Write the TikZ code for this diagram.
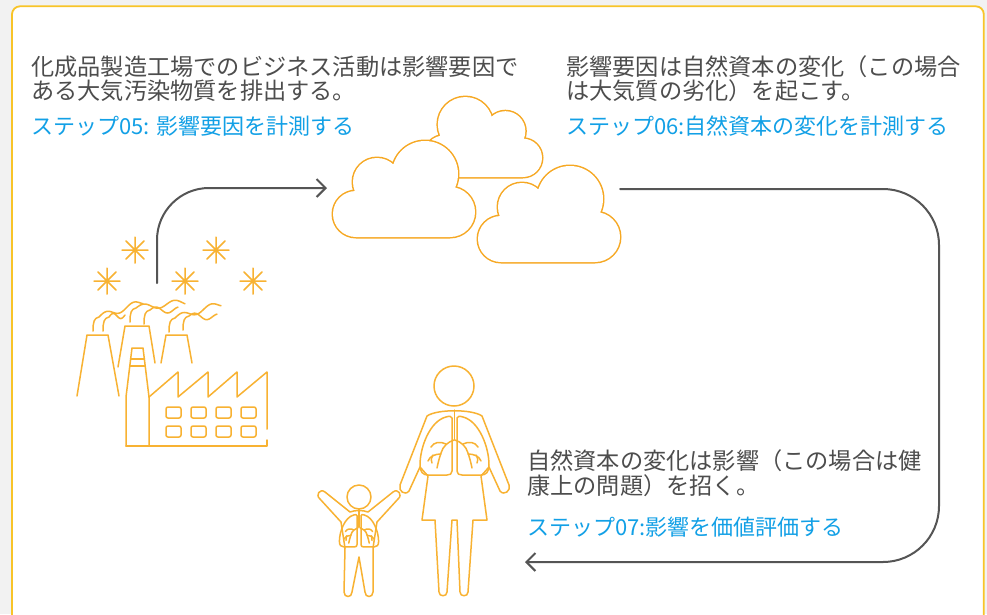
\documentclass[tikz,border=0pt]{standalone}
\usepackage{fontspec}
\newfontfamily\jpfont{Noto Sans CJK JP}
\usetikzlibrary{arrows.meta}

\definecolor{pagegray}{RGB}{242,242,242}
\definecolor{framegold}{RGB}{248,196,40}
\definecolor{iconorange}{RGB}{248,178,50}
\definecolor{cloudorange}{RGB}{246,168,35}
\definecolor{txtgray}{RGB}{77,77,77}
\definecolor{stepblue}{RGB}{18,160,230}
\definecolor{flowgray}{RGB}{85,85,85}

% outline of one cloud: four bumps on a flat base
\newcommand{\cloudpath}{(23,-23) circle (23) (117,-25) circle (25) (44,-55) circle (24) (92,-63) circle (33)
  (23,0) -- (23,-23) -- (44,-55) -- (92,-63) -- (117,-25) -- (117,0) -- cycle}

% rising smoke: a hook, then a wave
\newcommand{\smoke}[5]{%
  \draw[icon] (#1,#2) .. controls (#1,#2-9) and (#1+1,#2-13) .. (#1+6,#2-14)
    -- plot[domain=0:1, samples=40, smooth] ({#1+6+\x*(#3-#1-6)}, {#2-14+\x*(#4-#2+14)-3*sin(\x*#5*360)});}

\tikzset{
  desc/.style={font=\jpfont\fontsize{23.2}{24.5}\selectfont, text=txtgray, align=left, inner sep=0pt, anchor=base west},
  steplabel/.style={font=\jpfont\fontsize{22}{25}\selectfont, text=stepblue, inner sep=0pt, anchor=base west},
  flow/.style={draw=flowgray, line width=2pt, -{Straight Barb[length=9pt, width=18pt]}},
  icon/.style={draw=iconorange, line width=1.5pt, line join=round, line cap=round},
  cloud/.pic={
    \draw[cloudorange, line width=3pt] \cloudpath;
    \fill[white] \cloudpath;
  },
  lung/.pic={
    \draw[icon] (0,1) -- (0,54) .. controls (0,57) and (-2,58) .. (-5,58) -- (-24,58)
      .. controls (-29,58) and (-32,55) .. (-32,48) .. controls (-32,30) and (-22,4) .. (-6,0)
      .. controls (-3,-1) and (0,-1) .. (0,1);
    \draw[icon] (2,23) .. controls (-4,25) and (-9,29) .. (-11,36) .. controls (-13,42) and (-14,46) .. (-15,51);
    \draw[icon] (-6,27) .. controls (-12,24) and (-18,25) .. (-21,30);
    \draw[icon] (-11,37) .. controls (-17,37) and (-22,39) .. (-24,44);
    \draw[icon] (-19,38) .. controls (-21,42) .. (-20,46);
  }
}

\begin{document}
\begin{tikzpicture}[x=1pt, y=-1pt, line join=round, line cap=round]
\useasboundingbox (0,0) rectangle (987,614);
\clip (0,0) rectangle (987,614);
\fill[pagegray] (0,0) rectangle (987,614);
\draw[framegold, line width=1.8pt, fill=white, rounded corners=8pt] (12,6.3) rectangle (983.8,640);

% texts (base anchor sits on the last line)
\node[desc] (desc05) at (31,99.5) {化成品製造工場でのビジネス活動は影響要因で\\ある大気汚染物質を排出する。};
\node[steplabel] (step05) at (31,134) {ステップ05: 影響要因を計測する};
\node[desc] (desc06) at (566,99.5) {影響要因は自然資本の変化（この場合\\は大気質の劣化）を起こす。};
\node[steplabel] (step06) at (566,134) {ステップ06:自然資本の変化を計測する};
\node[desc] (desc07) at (527,494) {自然資本の変化は影響（この場合は健\\康上の問題）を招く。};
\node[steplabel] (step07) at (527,535) {ステップ07:影響を価値評価する};

% factory
\foreach \sx/\sy in {135/250, 216/250, 107/281, 185/281, 253/281}
  \draw[icon] (\sx,\sy) +(-13,0) -- +(13,0) +(0,-13) -- +(0,13) +(-9,-9) -- +(9,9) +(-9,9) -- +(9,-9);
\smoke{93}{331}{143}{302}{1.6}
\smoke{103}{331}{125}{315}{1}
\smoke{130}{322}{185}{302}{1.6}
\smoke{144}{324}{178}{310}{1.2}
\smoke{169}{332}{221}{304}{1.6}
\smoke{183}{330}{217}{317}{1.2}
\draw[icon] (77,396) -- (87,335) -- (108,335) -- (119,396);
\draw[icon] (118,367) -- (125,326) -- (149,326) -- (155,363);
\draw[icon] (161,363) -- (166,335) -- (187,335) -- (192,363);
\draw[icon] (126,446) -- (126,397) -- (132,348) -- (143,348) -- (149,397) -- (149,446);
\draw[icon] (130.7,359) -- (144.3,359) (129.8,366) -- (145.2,366);
\draw[icon] (149,397) -- (178,372) -- (178,397) -- (208,372) -- (208,397) -- (237,372) -- (237,397) -- (267,372) -- (267,429);
\draw[icon] (267,440) -- (267,446) -- (126,446);
\foreach \wx in {166,191,216,241}
  \foreach \wy in {407,426}
    \draw[icon, rounded corners=2pt] (\wx,\wy) rectangle ++(15,11);

% clouds, back to front
\pic[xscale=-.833, yscale=.833] at (542,177) {cloud};
\pic at (333,237) {cloud};
\pic at (478,262) {cloud};

% woman
\draw[icon] (454,386) circle (20);
\draw[icon] (427,416) -- (400,485) .. controls (398,491) and (405,496) .. (409,491) -- (420,467) -- (428,476)
  -- (422,520) -- (435,520) -- (439,592) .. controls (439,597) and (447,597) .. (447,592) -- (452,520)
  -- (457,520) -- (460,592) .. controls (460,597) and (468,597) .. (468,592) -- (473,520) -- (487,520)
  -- (481,476) -- (489,467) -- (500,491) .. controls (504,496) and (511,491) .. (509,485) -- (482,416)
  .. controls (472,409) and (437,409) .. (427,416) -- cycle;
\draw[icon] (454.5,410) -- (454.5,440);
\pic at (452,417) {lung};
\pic[xscale=-1] at (457,417) {lung};

% child
\draw[icon] (359,497) circle (12);
\draw[icon] (350,512) -- (325,492) .. controls (320,488) and (315,495) .. (320,499) -- (341,522) -- (345,548)
  -- (344,592) .. controls (344,598) and (352,598) .. (352,592) -- (359,557) -- (365,592)
  .. controls (365,598) and (373,598) .. (373,592) -- (373,548) -- (377,522) -- (398,499)
  .. controls (403,495) and (398,488) .. (393,492) -- (368,512) .. controls (363,510) and (355,510) .. (350,512) -- cycle;
\draw[icon] (359,509) -- (359,527);
\pic[scale=.55] at (357,515) {lung};
\pic[xscale=-.55, yscale=.55] at (361,515) {lung};

% flow between the stages
\coordinate (smoke top) at (157,283);
\coordinate (cloud in) at (327,188);
\coordinate (cloud out) at (620,189);
\coordinate (loop turn) at (939,380);
\coordinate (people in) at (525,562);
\draw[flow, rounded corners=52pt] (smoke top) |- (cloud in);
\draw[flow, rounded corners=56pt] (cloud out) -| (loop turn) |- (people in);
\end{tikzpicture}
\end{document}
